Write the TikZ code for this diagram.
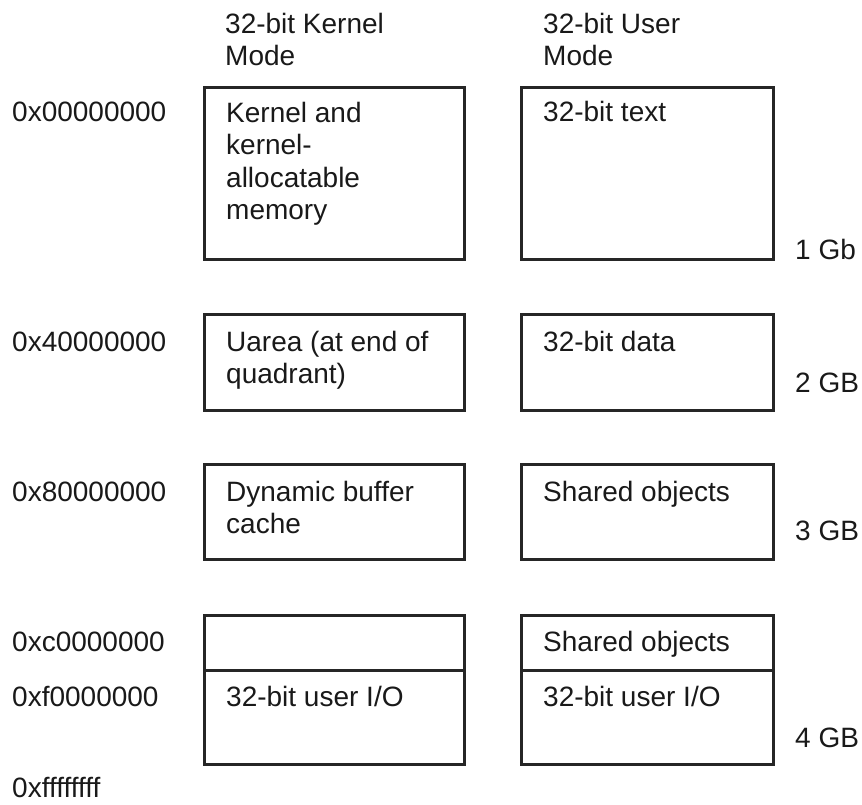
\documentclass[tikz,border=0pt]{standalone}
\usepackage{fontspec}
\setmainfont{Liberation Sans}
\begin{document}
\begin{tikzpicture}[x=1pt,y=-1pt,
  membox/.style={draw=black!85, line width=2.8pt, anchor=north west, inner sep=0pt},
  txt/.style={anchor=base west, inner sep=0pt, text=black!90, font=\fontsize{28}{32.5}\selectfont},
  mtxt/.style={anchor=north west, inner sep=0pt, align=left, text=black!90, font=\fontsize{28}{32.5}\selectfont}]
\useasboundingbox (0,0) rectangle (862,805);
% headers
\node[mtxt] (hk) at (225,12.6) {32-bit Kernel\\Mode};
\node[mtxt] (hu) at (543,12.6) {32-bit User\\Mode};
% kernel column boxes
\node[membox, minimum width=260pt, minimum height=172pt] (k1) at (203,86) {};
\node[membox, minimum width=260pt, minimum height=96pt] (k2) at (203,313) {};
\node[membox, minimum width=260pt, minimum height=95pt] (k3) at (203,463) {};
\node[membox, minimum width=260pt, minimum height=55pt] (k4) at (203,614) {};
\node[membox, minimum width=260pt, minimum height=94pt] (k5) at (203,669) {};
% user column boxes
\node[membox, minimum width=252pt, minimum height=172pt] (u1) at (520,86) {};
\node[membox, minimum width=252pt, minimum height=96pt] (u2) at (520,313) {};
\node[membox, minimum width=252pt, minimum height=95pt] (u3) at (520,463) {};
\node[membox, minimum width=252pt, minimum height=55pt] (u4) at (520,614) {};
\node[membox, minimum width=252pt, minimum height=94pt] (u5) at (520,669) {};
% box texts
\node[mtxt] (tk1) at (226,101.6) {Kernel and\\kernel-\\allocatable\\memory};
\node[mtxt] (tk2) at (226,330.6) {Uarea (at end of\\quadrant)};
\node[mtxt] (tk3) at (226,480.6) {Dynamic buffer\\cache};
\node[txt] (tk5) at (226,706) {32-bit user I/O};
\node[txt] (tu1) at (543,122) {32-bit text};
\node[txt] (tu2) at (543,351) {32-bit data};
\node[txt] (tu3) at (543,501) {Shared objects};
\node[txt] (tu4) at (543,651) {Shared objects};
\node[txt] (tu5) at (543,706) {32-bit user I/O};
% addresses
\node[txt] (a0) at (12,122) {0x00000000};
\node[txt] (a1) at (12,351) {0x40000000};
\node[txt] (a2) at (12,501) {0x80000000};
\node[txt] (a3) at (12,651) {0xc0000000};
\node[txt] (a4) at (12,706) {0xf0000000};
\node[txt] (a5) at (12,797) {0xffffffff};
% sizes
\node[txt] (s1) at (795,259) {1 Gb};
\node[txt] (s2) at (795,392) {2 GB};
\node[txt] (s3) at (795,540) {3 GB};
\node[txt] (s4) at (795,747) {4 GB};
\end{tikzpicture}
\end{document}
